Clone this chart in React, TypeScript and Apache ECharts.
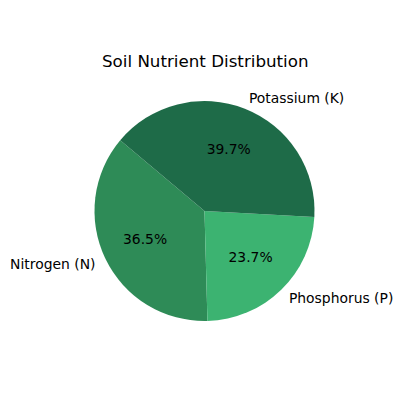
import React, { useEffect, useRef } from "react";
import * as echarts from "echarts";

const categories = ["Nitrogen (N)", "Phosphorus (P)", "Potassium (K)"];
const values = [36.5, 23.7, 39.7];
const colors = ["#2e8b57", "#3cb371", "#1e6b48"];

export default function App() {
  const ref = useRef<HTMLDivElement>(null);
  useEffect(() => {
    document.body.style.margin = "0";
    const chart = echarts.init(ref.current!, null, { renderer: "svg" });
    const font = "DejaVu Sans";
    const data = categories.map((name, i) => ({
      name,
      value: values[i],
      itemStyle: { color: colors[i] },
    }));
    const overlay = categories.map((name, i) => ({
      name,
      value: values[i],
      itemStyle: { color: "rgba(0,0,0,0)" },
    }));
    chart.setOption({
      animation: false,
      title: {
        text: "Soil Nutrient Distribution",
        left: 97,
        top: 47,
        textStyle: { fontFamily: font, fontSize: 16.7, fontWeight: "normal", color: "#000" },
      },
      series: [
        {
          type: "pie",
          center: [204.5, 211],
          radius: 110,
          startAngle: 140,
          clockwise: false,
          silent: true,
          avoidLabelOverlap: false,
          data,
          label: {
            show: true,
            position: "outside",
            fontFamily: font,
            fontSize: 13.9,
            color: "#000",
            distanceToLabelLine: 0,
          },
          labelLine: { show: false, length: 11, length2: 0 },
          emphasis: { disabled: true },
        },
        {
          type: "pie",
          center: [204.5, 210],
          radius: [16, 110],
          startAngle: 140,
          clockwise: false,
          silent: true,
          avoidLabelOverlap: false,
          data: overlay,
          label: {
            show: true,
            position: "inside",
            fontFamily: font,
            fontSize: 13.9,
            color: "#000",
            formatter: (p: any) => p.value.toFixed(1) + "%",
          },
          labelLine: { show: false },
          emphasis: { disabled: true },
        },
      ],
    });
    return () => chart.dispose();
  }, []);
  return <div ref={ref} style={{ width: 400, height: 400 }} />;
}
